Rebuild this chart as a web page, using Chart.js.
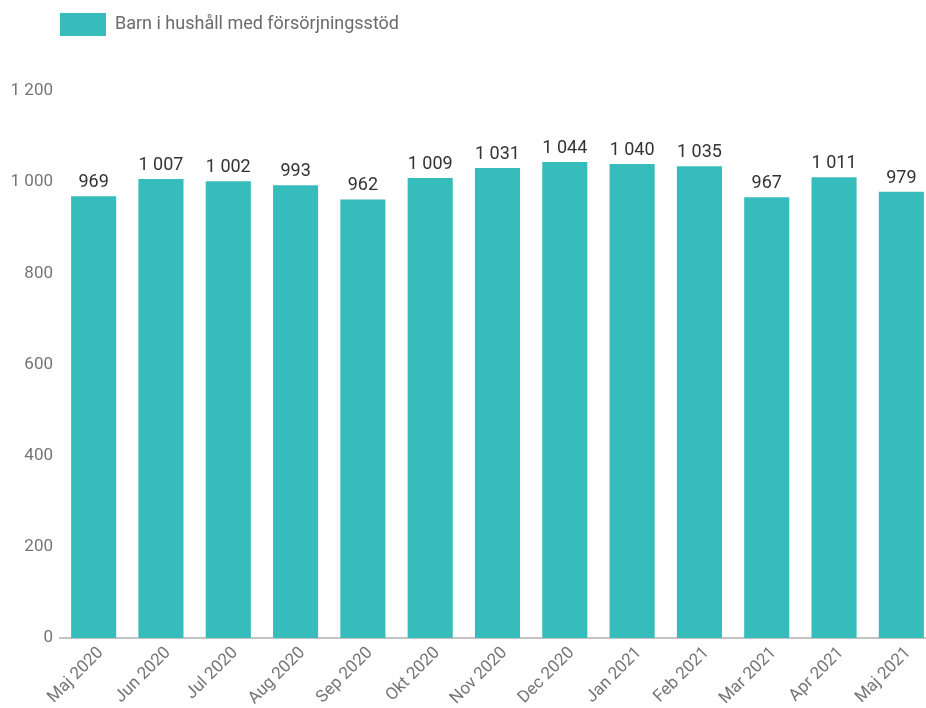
<!DOCTYPE html>
<html>
<head>
<meta charset="utf-8">
<script src="https://cdn.jsdelivr.net/npm/chart.js@4"></script>
<style>
  html, body { margin: 0; padding: 0; background: #fff; overflow: hidden; }
  #wrap { width: 926px; height: 708px; overflow: hidden; position: relative; }
  canvas { display: block; }
</style>
</head>
<body>
<div id="wrap"><canvas id="c" width="936" height="708"></canvas></div>
<script>
const categories = ["Maj 2020","Jun 2020","Jul 2020","Aug 2020","Sep 2020","Okt 2020","Nov 2020","Dec 2020","Jan 2021","Feb 2021","Mar 2021","Apr 2021","Maj 2021"];
const seriesLabel = "Barn i hushåll med försörjningsstöd";
const values = [969, 1007, 1002, 993, 962, 1009, 1031, 1044, 1040, 1035, 967, 1011, 979];
const yTicks = [0, 200, 400, 600, 800, 1000, 1200];

function fmt(n) {
  return String(n).replace(/\B(?=(\d{3})+(?!\d))/g, ' ');
}

const barColor = '#36BCBA';

const layoutHack = {
  id: 'layoutHack',
  beforeInit(chart) {
    const lg = chart.legend;
    if (lg && !lg._patched) {
      const orig = lg.fit;
      lg.fit = function() { orig.call(this); this.height += 45; };
      lg._patched = true;
    }
  },
  afterLayout(chart) {
    if (chart.legend) chart.legend.left = 50;
  }
};

const dataLabels = {
  id: 'dataLabels',
  afterDatasetsDraw(chart) {
    const ctx = chart.ctx;
    const meta = chart.getDatasetMeta(0);
    const ds = chart.data.datasets[0].data;
    ctx.save();
    ctx.font = '18px Roboto';
    ctx.fillStyle = '#333333';
    ctx.textAlign = 'center';
    ctx.textBaseline = 'alphabetic';
    meta.data.forEach((bar, i) => {
      ctx.fillText(fmt(ds[i]), bar.x, bar.y - 9);
    });
    ctx.restore();
  }
};

new Chart(document.getElementById('c'), {
  type: 'bar',
  data: {
    labels: categories,
    datasets: [{
      label: seriesLabel,
      data: values,
      backgroundColor: barColor,
      borderWidth: 0,
      categoryPercentage: 1,
      barPercentage: 0.67
    }]
  },
  options: {
    responsive: false,
    animation: false,
    layout: { padding: { top: 3, right: 1, left: 0, bottom: 0 } },
    plugins: {
      legend: {
        position: 'top',
        align: 'start',
        labels: {
          boxWidth: 46,
          boxHeight: 23,
          padding: 10,
          color: '#6b6b6b',
          font: { family: 'Roboto', size: 18 }
        }
      },
      tooltip: { enabled: false }
    },
    scales: {
      x: {
        grid: { display: false, drawTicks: false },
        border: { display: true, color: '#c4c4c4', width: 2 },
        ticks: {
          color: '#757575',
          font: { family: 'Roboto', size: 17 },
          maxRotation: 45,
          minRotation: 45,
          autoSkip: false,
          padding: 5,
          labelOffset: 7
        },
        afterFit(scale) {
          scale.height = 70;
          scale.paddingLeft = 0;
          scale.paddingRight = 0;
        }
      },
      y: {
        min: 0,
        max: 1200,
        grid: { display: false, drawTicks: false },
        border: { display: false },
        afterBuildTicks(scale) {
          scale.ticks = yTicks.map(v => ({ value: v }));
        },
        ticks: {
          color: '#757575',
          font: { family: 'Roboto', size: 17 },
          padding: 7,
          callback: (v) => fmt(v)
        },
        afterFit(scale) {
          scale.width = 60;
        }
      }
    }
  },
  plugins: [layoutHack, dataLabels]
});
</script>
</body>
</html>
